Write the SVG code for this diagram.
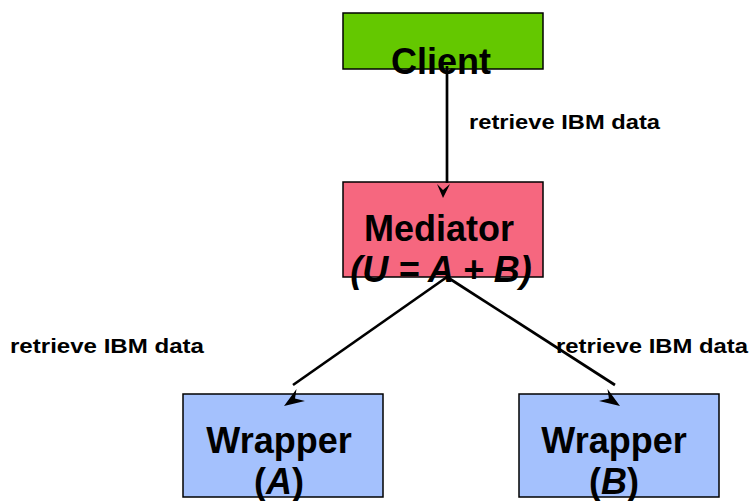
<svg xmlns="http://www.w3.org/2000/svg" width="751" height="501" viewBox="0 0 751 501">
<style>
.box{stroke:#000;stroke-width:1.5}
.big{font-family:"Liberation Sans",Arial,sans-serif;font-weight:bold;font-size:36px;fill:#000;text-anchor:middle}
.it{font-style:italic}
.lbl{font-family:"Liberation Sans",Arial,sans-serif;font-weight:bold;font-size:21px;fill:#000}
.ln{stroke:#000;stroke-width:2.7;fill:none}
.ah{fill:#000}
</style>
<rect width="751" height="501" fill="#fff"/>
<g id="client">
<rect class="box" x="343" y="13" width="200" height="56" fill="#64c800"/>
</g>
<g id="mediator">
<rect class="box" x="343" y="182" width="200" height="95" fill="#f6677f"/>
</g>
<g id="wrapperA">
<rect class="box" x="183" y="394" width="200" height="103" fill="#a4c1fd"/>
</g>
<g id="wrapperB">
<rect class="box" x="519" y="394" width="200" height="103" fill="#a4c1fd"/>
</g>
<g id="connectors">
<line class="ln" x1="447" y1="66" x2="447" y2="183"/>
<polygon class="ah" points="443,198 437,184 443,190 450,184"/>
<line class="ln" x1="447" y1="277" x2="293" y2="385"/>
<polygon class="ah" points="284,406 296.5,389 295,398.5 305,401"/>
<line class="ln" x1="447" y1="277" x2="615" y2="385"/>
<polygon class="ah" points="620,406 607.5,389 608.9,398.5 599,401"/>
</g>
<g id="texts">
<text class="big" x="441" y="74">Client</text>
<text class="big" x="439" y="241">Mediator</text>
<text class="big it" x="441" y="282">(U = A + B)</text>
<text class="big" x="279" y="453">Wrapper</text>
<text class="big" x="279" y="494">(<tspan class="it">A</tspan>)</text>
<text class="big" x="614" y="453">Wrapper</text>
<text class="big" x="614" y="494">(<tspan class="it">B</tspan>)</text>
<text class="lbl" x="469" y="129" textLength="191" lengthAdjust="spacingAndGlyphs">retrieve IBM data</text>
<text class="lbl" x="10" y="353" textLength="194" lengthAdjust="spacingAndGlyphs">retrieve IBM data</text>
<text class="lbl" x="556" y="353" textLength="192" lengthAdjust="spacingAndGlyphs">retrieve IBM data</text>
</g>
</svg>
